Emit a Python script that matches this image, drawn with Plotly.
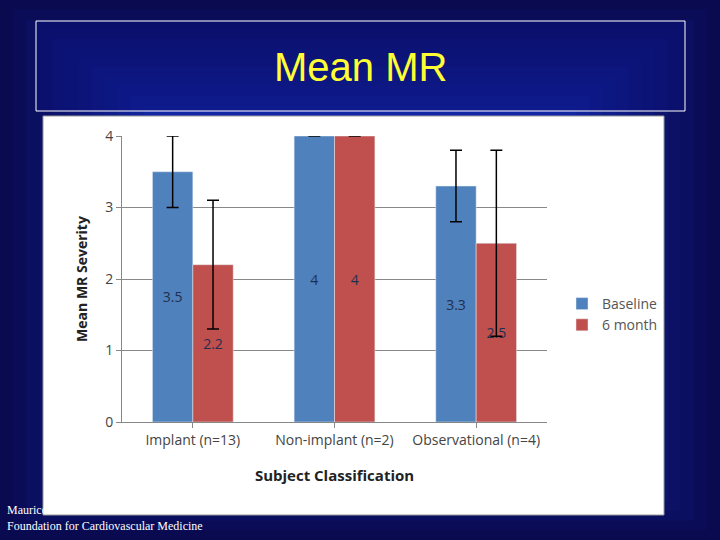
import plotly.graph_objects as go

categories = ["Implant (n=13)", "Non-implant (n=2)", "Observational (n=4)"]
baseline = [3.5, 4, 3.3]
month6 = [2.2, 4, 2.5]
baseline_err = [0.5, 0, 0.5]
month6_err = [0.9, 0, 1.3]
baseline_labels = ["3.5", "4", "3.3"]
month6_labels = ["2.2", "4", "2.5"]

W, H = 720, 540
def px(x): return x / W
def py(y): return 1 - y / H

fig = go.Figure()
font = "Open Sans"
fig.add_trace(go.Bar(name="Baseline", x=categories, y=baseline, marker_color="#4F81BD",
                     text=baseline_labels, textposition="inside", insidetextanchor="middle",
                     textfont=dict(color="#1F2F4F", size=14, family=font), textangle=0,
                     error_y=dict(type="data", array=baseline_err, color="black", thickness=1.5, width=6)))
fig.add_trace(go.Bar(name="6 month", x=categories, y=month6, marker_color="#C0504D",
                     text=month6_labels, textposition="inside", insidetextanchor="middle",
                     textfont=dict(color="#1F2F4F", size=14, family=font), textangle=0,
                     error_y=dict(type="data", array=month6_err, color="black", thickness=1.5, width=6)))

shapes = []
n = 24
for i in range(n):
    t = i / (n - 1)
    r = int(10 + t * 20); g = int(10 + t * 60); b = int(80 + t * 175)
    dx = t * 300; dy = t * 220
    shapes.append(dict(type="rect", xref="paper", yref="paper", layer="below",
                       x0=px(dx), x1=px(W - dx), y0=py(H - dy), y1=py(dy),
                       fillcolor=f"rgb({r},{g},{b})", line_width=0))
shapes.append(dict(type="rect", xref="paper", yref="paper", layer="below",
                   x0=px(36), x1=px(685), y0=py(111), y1=py(21),
                   fillcolor="rgba(10,15,120,0.5)", line=dict(color="white", width=1)))
shapes.append(dict(type="rect", xref="paper", yref="paper", layer="below",
                   x0=px(43), x1=px(664), y0=py(515), y1=py(116),
                   fillcolor="white", line=dict(color="#999999", width=1)))

fig.update_layout(
    width=W, height=H, margin=dict(l=0, r=0, t=0, b=0, autoexpand=False), autosize=False,
    paper_bgcolor="#0a0a50", plot_bgcolor="white",
    barmode="group", bargap=0.43, bargroupgap=0,
    shapes=shapes, showlegend=True,
    font=dict(family=font),
    legend=dict(x=px(562), y=py(288), xanchor="left", yanchor="top",
                bgcolor="rgba(0,0,0,0)", font=dict(size=14, color="#555555"),
                itemwidth=30, tracegroupgap=4),
    xaxis=dict(domain=[px(122), px(547)], showgrid=False, showline=True, linecolor="#888888",
               ticks="outside", tickcolor="#888888", ticklen=5,
               tickfont=dict(size=14, color="#444444"),
               title=dict(text="<b>Subject Classification</b>", font=dict(size=15, color="#222222"), standoff=22)),
    yaxis=dict(domain=[py(422), py(136)], range=[0, 4], dtick=1, showgrid=True, gridcolor="#888888",
               showline=True, linecolor="#888888", ticks="outside", tickcolor="#888888", ticklen=5,
               tickfont=dict(size=14, color="#444444"), zeroline=False,
               title=dict(text="<b>Mean MR Severity</b>", font=dict(size=14, color="#222222"), standoff=14)),
    annotations=[
        dict(text="Mean MR", xref="paper", yref="paper", x=0.5, y=py(67), yanchor="middle", showarrow=False,
             font=dict(size=40, color="#FFFF33", family="Liberation Sans")),
        dict(text="Maurice<br>Foundation for Cardiovascular Medicine", xref="paper", yref="paper",
             x=px(5), y=py(535), xanchor="left", yanchor="bottom", align="left", showarrow=False,
             font=dict(size=12, color="white", family="Liberation Serif")),
    ],
)
fig.write_html("out.html", config={"responsive": False, "displayModeBar": False})
with open("out.html") as f:
    html = f.read()
html = html.replace("<head>", "<head><style>html,body{margin:0;padding:0;overflow:hidden;}</style>", 1)
with open("out.html", "w") as f:
    f.write(html)
